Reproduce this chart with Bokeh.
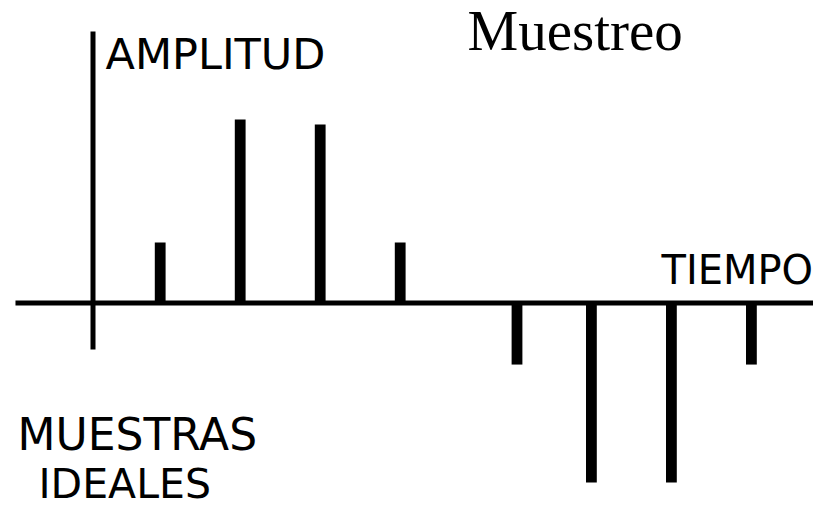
from bokeh.plotting import figure
from bokeh.models import Range1d
from bokeh.embed import file_html
from bokeh.resources import INLINE
from bokeh.core.properties import value

# sample times (units of one sampling interval) and sample amplitudes
times = [0.84, 1.84, 2.84, 3.84, 5.30, 6.23, 7.23, 8.23]
amplitudes = [0.336, 1.019, 0.992, 0.336, -0.342, -0.997, -0.997, -0.342]

title_text = "Muestreo"
y_label = "AMPLITUD"
x_label = "TIEMPO"
caption_lines = ["MUESTRAS", "IDEALES"]

# axis extents (data units)
h_axis_start, h_axis_end = -0.969, 9.2
v_axis_bottom, v_axis_top = -0.258, 1.508

W, H = 813, 509
x0 = -92.5 / 80.0
y1 = 302.5 / 180.0
p = figure(width=W, height=H, output_backend="svg", toolbar_location=None,
           x_range=Range1d(x0, x0 + W / 80.0),
           y_range=Range1d(y1 - H / 180.0, y1),
           min_border=0, outline_line_color=None)
p.xaxis.visible = False
p.yaxis.visible = False
p.xgrid.visible = False
p.ygrid.visible = False
p.background_fill_color = "white"
p.border_fill_color = "white"

# axes drawn as lines
p.segment(x0=[h_axis_start], y0=[0], x1=[h_axis_end], y1=[0],
          line_color="black", line_width=5, line_cap="butt")
p.segment(x0=[0], y0=[v_axis_bottom], x1=[0], y1=[v_axis_top],
          line_color="black", line_width=5, line_cap="butt")

# ideal samples
p.vbar(x=times, top=amplitudes, bottom=0, width=0.135,
       fill_color="black", line_color=None)

# texts
p.text(x=[4.681], y=[1.5133], text=[title_text], text_font=value("Liberation Serif"),
       text_font_size="57px", text_color="black", text_baseline="alphabetic", text_align="left")
p.text(x=[0.156], y=[1.386], text=[y_label], text_font=value("DejaVu Sans"),
       text_font_size="43px", text_color="black", text_baseline="alphabetic", text_align="left")
p.text(x=[7.106], y=[0.186], text=[x_label], text_font=value("DejaVu Sans"),
       text_font_size="40px", text_color="black", text_baseline="alphabetic", text_align="left")
p.text(x=[-0.944], y=[-0.731], text=[caption_lines[0]], text_font=value("DejaVu Sans"),
       text_font_size="44px", text_color="black", text_baseline="alphabetic", text_align="left")
p.text(x=[-0.681], y=[-1.0028], text=[caption_lines[1]], text_font=value("DejaVu Sans"),
       text_font_size="41px", text_color="black", text_baseline="alphabetic", text_align="left")

open("out.html", "w").write(file_html(p, INLINE))
